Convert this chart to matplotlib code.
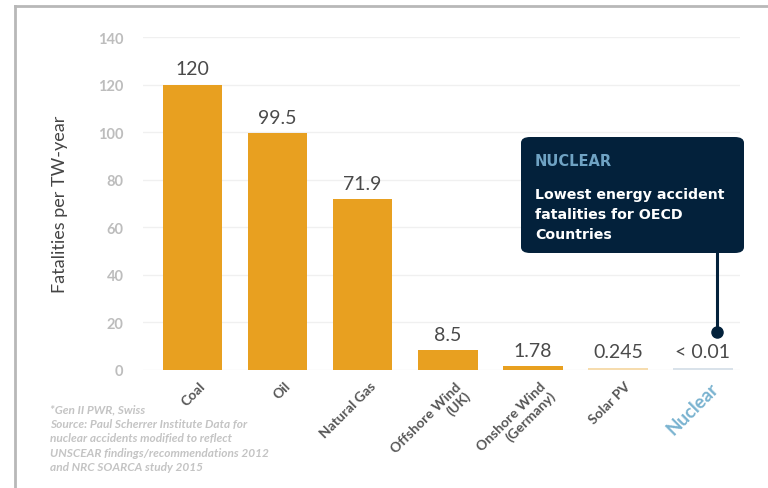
import matplotlib.pyplot as plt
from matplotlib.patches import FancyBboxPatch
from matplotlib.lines import Line2D

# ============================== DATA ==============================
categories = ["Coal", "Oil", "Natural Gas", "Offshore Wind\n(UK)",
              "Onshore Wind\n(Germany)", "Solar PV", "Nuclear"]
values = [120, 99.5, 71.9, 8.5, 1.78, 0.245, 0.01]
value_labels = ["120", "99.5", "71.9", "8.5", "1.78", "0.245", "< 0.01"]
bar_colors = ["#e8a020"] * 5 + ["#f6dcae", "#d9e2ea"]
yticks = [0, 20, 40, 60, 80, 100, 120, 140]
footnote = ("*Gen II PWR, Swiss\n"
            "Source: Paul Scherrer Institute Data for\n"
            "nuclear accidents modified to reflect\n"
            "UNSCEAR findings/recommendations 2012\n"
            "and NRC SOARCA study 2015")
# ==================================================================

fig = plt.figure(figsize=(7.68, 4.89), dpi=100)
fig.patch.set_facecolor("white")
ax = fig.add_axes([143/768, 1-371/489, (740-143)/768, (371-38)/489])

x = list(range(len(categories)))
ax.bar(x, values, width=0.7, color=bar_colors, zorder=2)
# tiny bars: draw a minimum visible sliver
for xi, v, c in zip(x[5:], values[5:], bar_colors[5:]):
    ax.bar(xi, 1.0, width=0.7, color=c, zorder=2)

for xi, v, lab in zip(x, values, value_labels):
    ax.text(xi, max(v, 1) + 3, lab, ha="center", va="bottom",
            fontsize=14, color="#4a4a4a", family="Lato")

ax.set_xlim(-0.582, 6.435)
ax.set_ylim(0, 140)
ax.set_yticks(yticks)
ax.set_yticklabels([str(t) for t in yticks], fontsize=10.5,
                   color="#bdbdbd", fontweight="bold", family="Lato")
ax.yaxis.grid(True, color="#f0f0f0", linewidth=1, zorder=0)
ax.tick_params(axis="y", length=0, pad=14)
ax.tick_params(axis="x", length=0)
for s in ax.spines.values():
    s.set_visible(False)
ax.set_ylabel("Fatalities per TW-year", fontsize=13, color="#444444",
              family="Lato", labelpad=22)

ax.set_xticks(x)
ax.set_xticklabels([])
for xi, cat in zip(x, categories):
    if cat == "Nuclear":
        ax.text(xi + 0.08, -4, cat, rotation=45, ha="right", va="top",
                rotation_mode="anchor", fontsize=13.5, fontweight="bold",
                color="#7ab3d0", family="Lato", linespacing=1.1)
    else:
        ax.text(xi + 0.08, -4, cat, rotation=45, ha="right", va="top",
                rotation_mode="anchor", fontsize=10, fontweight="bold",
                color="#555555", family="Lato", linespacing=1.1,
                multialignment="right")

# callout box
box = FancyBboxPatch((521/768, 1-254/489), (744-521)/768, (254-138)/489,
                     boxstyle="round,pad=0,rounding_size=0.012",
                     transform=fig.transFigure, facecolor="#03213b",
                     edgecolor="none", zorder=5)
fig.patches.append(box)
fig.text(535/768, 1-162/489, "NUCLEAR", color="#6fa3c4", fontsize=10.5,
         fontweight="bold", family="DejaVu Sans", va="center", zorder=6)
fig.text(535/768, 1-215/489,
         "Lowest energy accident\nfatalities for OECD\nCountries",
         color="white", fontsize=10.2, fontweight="bold", family="DejaVu Sans",
         va="center", linespacing=1.55, zorder=6)
fig.lines.append(Line2D([717/768, 717/768], [1-254/489, 1-333/489],
                        transform=fig.transFigure, color="#03213b",
                        linewidth=2.2, zorder=5))
fig.lines.append(Line2D([717/768], [1-333/489], transform=fig.transFigure,
                        marker="o", markersize=8, color="#03213b", zorder=5))

# footnote
fig.text(50/768, 1-404/489, footnote, color="#c4c4c4", fontsize=8.6,
         style="italic", fontweight="bold", family="Lato", va="top",
         linespacing=1.4)

# frame lines on left and top
fig.lines.append(Line2D([15/768, 15/768], [0, 1-7/489],
                        transform=fig.transFigure, color="#b8b8b8", linewidth=2))
fig.lines.append(Line2D([15/768, 1], [1-7/489, 1-7/489],
                        transform=fig.transFigure, color="#b8b8b8", linewidth=2))

fig.savefig("out.png", dpi=100)
